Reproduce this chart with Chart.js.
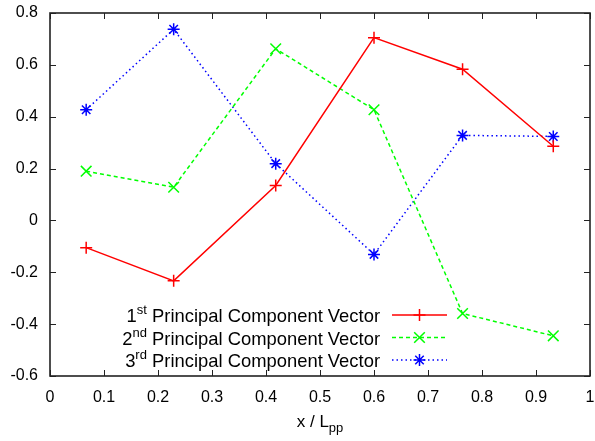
<!DOCTYPE html>
<html>
<head>
<meta charset="utf-8">
<script src="https://cdn.jsdelivr.net/npm/chart.js@4.4.1/dist/chart.umd.min.js"></script>
<style>
  html, body { margin: 0; padding: 0; background: #fff; overflow: hidden; }
  canvas { display: block; }
</style>
</head>
<body>
<canvas id="pcaChart" width="595" height="441"></canvas>
<script>
// data
const xPositions = [0.067, 0.229, 0.418, 0.600, 0.764, 0.932];
const firstVector = [-0.105, -0.233, 0.135, 0.705, 0.583, 0.286];
const secondVector = [0.190, 0.128, 0.662, 0.427, -0.359, -0.445];
const thirdVector = [0.427, 0.737, 0.219, -0.131, 0.328, 0.324];

const legendOrdinals = ['1', '2', '3'];
const legendSuffixes = ['st', 'nd', 'rd'];
const legendText = ' Principal Component Vector';

const FONT = '"Liberation Sans", Arial, Helvetica, sans-serif';

function toPoints(values) {
    return values.map((v, i) => ({ x: xPositions[i], y: v }));
}

function fmtTick(value) {
    if (Math.abs(value) < 1e-9) return '0';
    if (Math.abs(value - 1) < 1e-9) return '1';
    return value.toFixed(1);
}

// frame + inward ticks on all four sides (gnuplot look)
const framePlugin = {
    id: 'frame',
    afterDatasetsDraw(chart) {
        const { ctx, chartArea: a, scales } = chart;
        const len = 6;
        ctx.save();
        ctx.strokeStyle = '#222';
        ctx.lineWidth = 1;
        ctx.beginPath();
        scales.x.ticks.forEach(t => {
            const px = Math.round(scales.x.getPixelForValue(t.value)) + 0.5;
            ctx.moveTo(px, a.bottom); ctx.lineTo(px, a.bottom - len);
            ctx.moveTo(px, a.top); ctx.lineTo(px, a.top + len);
        });
        scales.y.ticks.forEach(t => {
            const py = Math.round(scales.y.getPixelForValue(t.value)) + 0.5;
            ctx.moveTo(a.left, py); ctx.lineTo(a.left + len, py);
            ctx.moveTo(a.right, py); ctx.lineTo(a.right - len, py);
        });
        ctx.stroke();
        ctx.lineWidth = 1.6;
        ctx.strokeRect(a.left, a.top, a.right - a.left, a.bottom - a.top);

        // x axis title with subscript
        ctx.fillStyle = '#000';
        ctx.textBaseline = 'alphabetic';
        const main = 'x / L';
        ctx.font = '13px ' + FONT;
        const subW = ctx.measureText('pp').width;
        ctx.font = '17px ' + FONT;
        const mainW = ctx.measureText(main).width;
        const cx = (a.left + a.right) / 2;
        const x0 = cx - (mainW + subW) / 2;
        ctx.textAlign = 'left';
        ctx.fillText(main, x0, 427);
        ctx.font = '13px ' + FONT;
        ctx.fillText('pp', x0 + mainW, 432);
        ctx.restore();
    }
};

// legend with superscript ordinals, drawn inside the plot
const legendPlugin = {
    id: 'supLegend',
    afterDraw(chart) {
        const { ctx } = chart;
        const textRight = 380;
        const lineStart = 392;
        const lineEnd = 447;
        const rows = [315, 337.5, 360];
        ctx.save();
        chart.data.datasets.forEach((ds, i) => {
            const y = rows[i];
            ctx.fillStyle = '#000';
            ctx.textBaseline = 'alphabetic';
            ctx.textAlign = 'right';
            ctx.font = '18.4px ' + FONT;
            const w1 = ctx.measureText(legendText).width;
            ctx.fillText(legendText, textRight, y + 7);
            ctx.font = '13px ' + FONT;
            const w2 = ctx.measureText(legendSuffixes[i]).width;
            ctx.fillText(legendSuffixes[i], textRight - w1, y - 1);
            ctx.font = '18.4px ' + FONT;
            ctx.fillText(legendOrdinals[i], textRight - w1 - w2, y + 7);

            ctx.strokeStyle = ds.borderColor;
            ctx.lineWidth = ds.borderWidth;
            ctx.setLineDash(ds.borderDash || []);
            ctx.beginPath();
            ctx.moveTo(lineStart, y);
            ctx.lineTo(lineEnd, y);
            ctx.stroke();
            ctx.setLineDash([]);
            Chart.helpers.drawPoint(ctx, {
                pointStyle: ds.pointStyle,
                radius: ds.pointRadius,
                rotation: 0,
                borderWidth: ds.pointBorderWidth
            }, (lineStart + lineEnd) / 2, y);
        });
        ctx.restore();
    }
};

const ctx = document.getElementById('pcaChart').getContext('2d');
const pcaChart = new Chart(ctx, {
    type: 'scatter',
    data: {
        datasets: [{
            label: '1st Principal Component Vector',
            data: toPoints(firstVector),
            showLine: true,
            borderColor: '#ff0000',
            backgroundColor: '#ff0000',
            borderWidth: 1.5,
            pointStyle: 'cross',
            pointRadius: 6,
            pointBorderWidth: 1.5
        }, {
            label: '2nd Principal Component Vector',
            data: toPoints(secondVector),
            showLine: true,
            borderColor: '#00ff00',
            backgroundColor: '#00ff00',
            borderWidth: 1.5,
            borderDash: [4, 3],
            pointStyle: 'crossRot',
            pointRadius: 7.5,
            pointBorderWidth: 1.5
        }, {
            label: '3rd Principal Component Vector',
            data: toPoints(thirdVector),
            showLine: true,
            borderColor: '#0000ff',
            backgroundColor: '#0000ff',
            borderWidth: 1.5,
            borderDash: [1.5, 3],
            pointStyle: 'star',
            pointRadius: 6,
            pointBorderWidth: 1.5
        }]
    },
    options: {
        responsive: false,
        animation: false,
        layout: { autoPadding: false, padding: { top: 13, right: 5, left: 0, bottom: 0 } },
        plugins: {
            legend: { display: false },
            tooltip: { enabled: false }
        },
        scales: {
            x: {
                type: 'linear',
                min: 0,
                max: 1,
                grid: { display: false, drawTicks: false },
                border: { display: false },
                ticks: {
                    stepSize: 0.1,
                    padding: 12,
                    color: '#000',
                    font: { family: FONT, size: 16 },
                    maxRotation: 0,
                    autoSkip: false,
                    callback: v => fmtTick(v)
                },
                afterFit(scale) {
                    scale.height = 65;
                    scale.paddingLeft = 0;
                    scale.paddingRight = 0;
                }
            },
            y: {
                type: 'linear',
                min: -0.6,
                max: 0.8,
                grid: { display: false, drawTicks: false },
                border: { display: false },
                ticks: {
                    stepSize: 0.2,
                    padding: 12,
                    color: '#000',
                    font: { family: FONT, size: 16 },
                    autoSkip: false,
                    callback: v => fmtTick(v)
                },
                afterFit(scale) {
                    scale.width = 50;
                    scale.paddingTop = 0;
                    scale.paddingBottom = 0;
                }
            }
        }
    },
    plugins: [framePlugin, legendPlugin]
});
</script>
</body>
</html>
